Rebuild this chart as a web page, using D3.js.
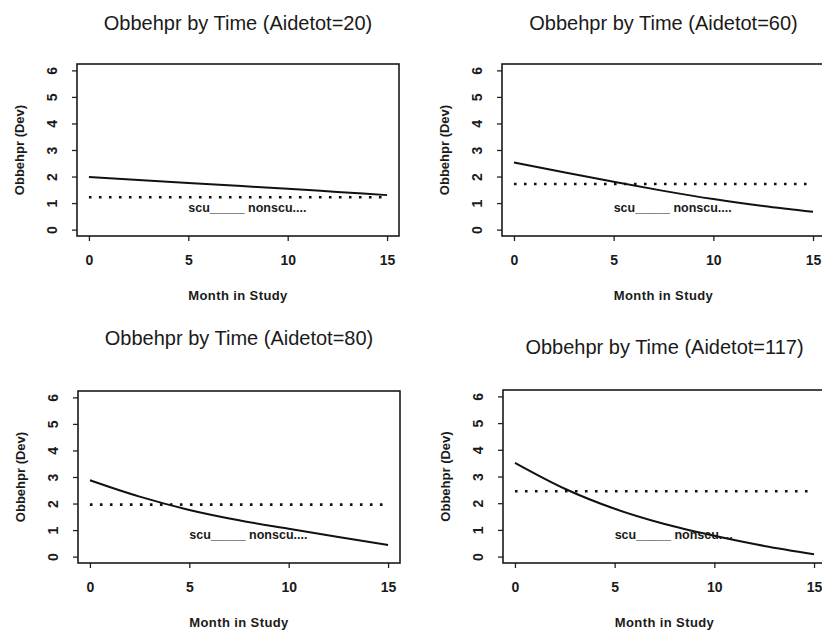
<!DOCTYPE html>
<html>
<head>
<meta charset="utf-8">
<script src="https://cdn.jsdelivr.net/npm/d3@7"></script>
<style>
  body { margin: 0; background: #fff; }
  svg { display: block; }
  text { font-family: "Liberation Sans", Arial, sans-serif; fill: #1a1a1a; }
</style>
</head>
<body>
<div id="chart"></div>
<script>
// values
const months = [0, 2.5, 5, 7.5, 10, 12.5, 15];
const aidetot = [20, 60, 80, 117];
const scu20 = [1.98, 1.87, 1.76, 1.65, 1.54, 1.42, 1.30];
const scu60 = [2.53, 2.16, 1.80, 1.46, 1.15, 0.89, 0.67];
const scu80 = [2.88, 2.26, 1.76, 1.37, 1.05, 0.74, 0.44];
const scu117 = [3.51, 2.54, 1.79, 1.22, 0.78, 0.40, 0.09];
const nonscu = [1.22, 1.72, 1.96, 2.45];
const xTicks = [0, 5, 10, 15];
const yTicks = [0, 1, 2, 3, 4, 5, 6];
const legendText = "scu_____ nonscu....";

const scuSeries = [scu20, scu60, scu80, scu117];

// panel boxes (pixels)
const layout = [
    {left: 77, right: 399, top: 64, bottom: 236, titleY: 30},
    {left: 502, right: 825, top: 64, bottom: 236, titleY: 30},
    {left: 78, right: 400, top: 391, bottom: 563, titleY: 345},
    {left: 503, right: 826, top: 390, bottom: 563, titleY: 354}
];

const svg = d3.select("#chart")
    .append("svg")
    .attr("width", 822)
    .attr("height", 630);

layout.forEach(function (p, i) {
    const g = svg.append("g");

    // R style 4% padding on both scales
    const x = d3.scaleLinear().domain([-0.6, 15.6]).range([p.left, p.right]);
    const y = d3.scaleLinear().domain([-0.24, 6.24]).range([p.bottom, p.top]);
    const cx = (p.left + p.right) / 2;
    const cy = (p.top + p.bottom) / 2;

    // title
    g.append("text")
        .attr("x", cx)
        .attr("y", p.titleY)
        .attr("text-anchor", "middle")
        .attr("font-size", "20px")
        .attr("fill", "#222")
        .text("Obbehpr by Time (Aidetot=" + aidetot[i] + ")");

    // axes
    g.append("g")
        .attr("transform", "translate(0," + p.bottom + ")")
        .call(d3.axisBottom(x).tickValues(xTicks).tickSize(5).tickPadding(14).tickFormat(d3.format("d")))
        .call(function (a) {
            a.select(".domain").remove();
            a.selectAll("line").attr("stroke", "#222").attr("stroke-width", 1.3);
            a.selectAll("text")
                .attr("font-family", "Liberation Sans, Arial, sans-serif")
                .attr("font-size", "14px")
                .attr("font-weight", "bold")
                .attr("fill", "#1a1a1a");
        });

    const yAxis = g.append("g")
        .attr("transform", "translate(" + p.left + ",0)")
        .call(d3.axisLeft(y).tickValues(yTicks).tickSize(5).tickFormat(d3.format("d")));
    yAxis.select(".domain").remove();
    yAxis.selectAll("line").attr("stroke", "#222").attr("stroke-width", 1.3);
    yAxis.selectAll("text")
        .attr("x", null)
        .attr("dy", "0.35em")
        .attr("text-anchor", "middle")
        .attr("transform", "translate(-25,0) rotate(-90)")
        .attr("font-family", "Liberation Sans, Arial, sans-serif")
        .attr("font-size", "14px")
        .attr("font-weight", "bold")
        .attr("fill", "#1a1a1a");

    // box
    g.append("rect")
        .attr("x", p.left)
        .attr("y", p.top)
        .attr("width", p.right - p.left)
        .attr("height", p.bottom - p.top)
        .attr("fill", "none")
        .attr("stroke", "#1a1a1a")
        .attr("stroke-width", 1.6);

    // axis titles
    g.append("text")
        .attr("x", cx)
        .attr("y", p.bottom + 64)
        .attr("text-anchor", "middle")
        .attr("font-size", "13px")
        .attr("font-weight", "bold")
        .attr("letter-spacing", "0.4px")
        .text("Month in Study");

    g.append("text")
        .attr("transform", "translate(" + (p.left - 58) + "," + cy + ") rotate(-90)")
        .attr("dy", "0.35em")
        .attr("text-anchor", "middle")
        .attr("font-size", "13px")
        .attr("font-weight", "bold")
        .text("Obbehpr (Dev)");

    // nonscu: flat dotted line
    g.append("line")
        .attr("x1", x(0))
        .attr("x2", x(15))
        .attr("y1", y(nonscu[i]))
        .attr("y2", y(nonscu[i]))
        .attr("stroke", "#111")
        .attr("stroke-width", 2.6)
        .attr("stroke-dasharray", "2.6,7.4");

    // scu: solid curve
    const line = d3.line()
        .x(function (d, j) { return x(months[j]); })
        .y(function (d) { return y(d); })
        .curve(d3.curveMonotoneX);

    g.append("path")
        .datum(scuSeries[i])
        .attr("d", line)
        .attr("fill", "none")
        .attr("stroke", "#111")
        .attr("stroke-width", 2);

    // in-plot legend text
    g.append("text")
        .attr("x", x(5))
        .attr("y", y(0.84))
        .attr("dy", "0.35em")
        .attr("font-size", "12.5px")
        .attr("font-weight", "bold")
        .text(legendText);
});
</script>
</body>
</html>
